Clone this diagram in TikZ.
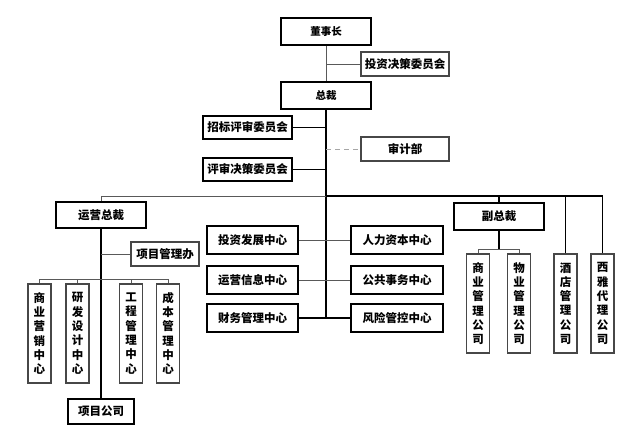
\documentclass[tikz,border=0pt]{standalone}
\usepackage{fontspec}
\setmainfont{Noto Sans CJK SC}
\begin{document}
\begin{tikzpicture}[x=1pt,y=-1pt,
  box/.style={draw=black,line width=1.1pt,fill=white,inner sep=0pt,align=center,
    font=\bfseries\fontsize{11.5}{13}\selectfont},
  gbox/.style={box,draw=black!72},
  vbox/.style={gbox,minimum width=23pt,minimum height=99pt,
    font=\bfseries\fontsize{11.5}{14.3}\selectfont},
  thin/.style={line width=1pt,draw=black!65},
  blk/.style={line width=1.1pt,draw=black},
  thick/.style={line width=2pt,draw=black},
  dsh/.style={line width=0.9pt,draw=black!35,dash pattern=on 5pt off 4pt}]
\useasboundingbox (0,0) rectangle (638,437);
\fill[white] (0,0) rectangle (638,437);

% top
\node[box,minimum width=90pt,minimum height=27pt,font=\bfseries\fontsize{10.5}{12}\selectfont] (dsz) at (326,31.5) {董事长};
\node[gbox,minimum width=88pt,minimum height=24pt] (tzjc) at (405,64) {投资决策委员会};
\node[box,minimum width=90pt,minimum height=27pt,font=\bfseries\fontsize{10.5}{12}\selectfont] (zc) at (326,95.5) {总裁};
\node[box,minimum width=89pt,minimum height=23pt] (zbps) at (247.5,127.5) {招标评审委员会};
\node[gbox,minimum width=88pt,minimum height=24pt] (sjb) at (405,149) {审计部};
\node[box,minimum width=89pt,minimum height=23pt] (psjc) at (247.5,169.5) {评审决策委员会};

% second level
\node[box,minimum width=90pt,minimum height=26pt] (yyzc) at (101,215) {运营总裁};
\node[box,minimum width=90pt,minimum height=27pt] (fzc) at (499,216.5) {副总裁};
\node[gbox,minimum width=68pt,minimum height=24pt] (xmglb) at (165,254) {项目管理办};

% centre
\node[box,minimum width=91pt,minimum height=28pt] (tzfz) at (252.5,240) {投资发展中心};
\node[box,minimum width=91pt,minimum height=28pt] (yyxx) at (252.5,280) {运营信息中心};
\node[box,minimum width=91pt,minimum height=28pt] (cwgl) at (252.5,318) {财务管理中心};
\node[box,minimum width=92pt,minimum height=28pt] (rlzb) at (397,240) {人力资本中心};
\node[box,minimum width=92pt,minimum height=28pt] (ggsw) at (397,280) {公共事务中心};
\node[box,minimum width=92pt,minimum height=28pt] (fxgk) at (397,318) {风险管控中心};

% left verticals
\node[vbox] (syyx) at (39.5,333.5) {商\\业\\营\\销\\中\\心};
\node[vbox] (yfsj) at (77.5,333.5) {研\\发\\设\\计\\中\\心};
\node[vbox] (gcgl) at (131,333.5) {工\\程\\管\\理\\中\\心};
\node[vbox] (cbgl) at (168,333.5) {成\\本\\管\\理\\中\\心};
\node[box,minimum width=66pt,minimum height=25pt] (xmgs) at (101,411.5) {项目公司};

% right verticals
\node[vbox] (sygl) at (478,303.5) {商\\业\\管\\理\\公\\司};
\node[vbox] (wygl) at (519,303.5) {物\\业\\管\\理\\公\\司};
\node[vbox] (jdgl) at (565.5,303.5) {酒\\店\\管\\理\\公\\司};
\node[vbox] (xydl) at (602.5,303.5) {西\\雅\\代\\理\\公\\司};

% junction coordinates
\coordinate (bus) at (0,196);
\coordinate (tend) at (326,318);
\coordinate (sub) at (0,279);
\coordinate (fsub) at (0,249);

% connectors top
\draw[thin] (dsz.south) -- (zc.north);
\draw[thin] (dsz.south |- tzjc.west) -- (tzjc.west);
\draw[thick] (zc.south) -- (tend);
\draw[blk] (zbps.east) -- (zc.south |- zbps.east);
\draw[blk] (psjc.east) -- (zc.south |- psjc.east);
\draw[dsh] (zc.south |- sjb.west) -- (sjb.west);

% main bus
\draw[thin] (yyzc.north) -- (yyzc.north |- bus) -- (zc.south |- bus);
\draw[blk] (zc.south |- bus) -- (xydl.north |- bus) -- (xydl.north);
\draw[blk] (fzc.north) -- (fzc.north |- bus);
\draw[blk] (jdgl.north) -- (jdgl.north |- bus);

% centres
\draw[thin] (tzfz.east) -- (rlzb.west);
\draw[thin] (yyxx.east) -- (ggsw.west);
\draw[blk] (cwgl.east) -- (fxgk.west);

% 运营总裁 branch
\draw[thick] (yyzc.south) -- (yyzc.south |- sub);
\draw[blk] (yyzc.south |- sub) -- (xmgs.north);
\draw[thin] (yyzc.south |- xmglb.west) -- (xmglb.west);
\draw[thin] (syyx.north) -- (syyx.north |- sub) -- (cbgl.north |- sub) -- (cbgl.north);
\draw[thin] (yfsj.north) -- (yfsj.north |- sub);
\draw[thin] (gcgl.north) -- (gcgl.north |- sub);

% 副总裁 branch
\draw[blk] (fzc.south) -- (fzc.south |- fsub);
\draw[thin] (sygl.north) -- (sygl.north |- fsub) -- (wygl.north |- fsub) -- (wygl.north);
\end{tikzpicture}
\end{document}
